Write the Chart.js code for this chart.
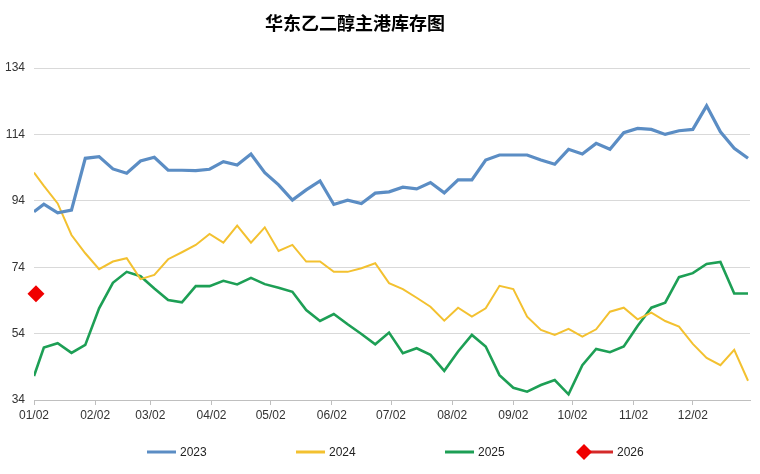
<!DOCTYPE html>
<html>
<head>
<meta charset="utf-8">
<script src="https://cdn.jsdelivr.net/npm/chart.js@4.4.1/dist/chart.umd.min.js"></script>
<style>
  html, body { margin: 0; padding: 0; background: #fff; }
</style>
</head>
<body>
<canvas id="graph" width="760" height="474"></canvas>
<script>

// days counted from 01/02, one reading a week
var weekDays = [0, 5, 12, 19, 26, 33, 40, 47, 54, 61, 68, 75, 82, 89, 96, 103, 110, 117, 124, 131,
    138, 145, 152, 159, 166, 173, 180, 187, 194, 201, 208, 215, 222, 229, 236, 243, 250, 257, 264,
    271, 278, 285, 292, 299, 306, 313, 320, 327, 334, 341, 348, 355, 362];

var monthDays = [0, 31, 59, 90, 120, 151, 181, 212, 243, 273, 304, 334];
var monthLabels = ['01/02', '02/02', '03/02', '04/02', '05/02', '06/02', '07/02', '08/02', '09/02', '10/02', '11/02', '12/02'];
var yTicks = [34, 54, 74, 94, 114, 134];

var stock2023 = [90.7, 93, 90.4, 91.2, 106.8, 107.3, 103.6, 102.3, 106, 107.1, 103.2, 103.2, 103.1, 103.5,
    105.8, 104.8, 108.1, 102.5, 98.8, 94.2, 97.3, 100, 92.9, 94.2, 93.2, 96.3, 96.7, 98.1, 97.6, 99.5,
    96.4, 100.3, 100.3, 106.3, 107.8, 107.8, 107.8, 106.3, 105, 109.5, 108.1, 111.3, 109.5, 114.5,
    115.8, 115.5, 114, 115.1, 115.5, 122.6, 114.8, 109.8, 106.8];

var stock2024 = [102.5, 98.5, 93.2, 83.7, 78.2, 73.4, 75.7, 76.7, 70.4, 71.7, 76.4, 78.5, 80.7, 84,
    81.4, 86.5, 81.4, 86, 78.9, 80.7, 75.7, 75.7, 72.6, 72.6, 73.7, 75.2, 69.2, 67.4, 64.8, 62.1,
    57.9, 61.8, 59.1, 61.6, 68.4, 67.4, 59.1, 55.1, 53.6, 55.4, 53.1, 55.3, 60.6, 61.8, 58.3, 60.3,
    57.8, 56.1, 50.9, 46.7, 44.5, 49.1, 39.8];

var stock2025 = [41.2, 49.8, 51.1, 48.2, 50.6, 61.6, 69.3, 72.6, 71.3, 67.6, 64.1, 63.4, 68.3, 68.3,
    69.9, 68.8, 70.8, 68.9, 67.8, 66.6, 61.1, 57.8, 59.9, 56.8, 53.9, 50.8, 54.3, 48.1, 49.6, 47.6,
    42.8, 48.6, 53.6, 50.1, 41.5, 37.7, 36.5, 38.5, 40, 35.7, 44.5, 49.4, 48.4, 50.1, 56.3, 61.8,
    63.3, 71, 72.2, 75, 75.6, 66.1, 66.1];

var days2026 = [1];
var stock2026 = [66];

var titleText = '华东乙二醇主港库存图';

const toPoints = (days, values) => {
    var pts = [];
    for (var i in values) {
        pts.push({ x: days[i], y: values[i] });
    }
    return pts;
};

// title and the bottom legend, placed like the excel original
var titleAndLegend = {
    id: 'titleAndLegend',
    afterDraw: function (chart) {
        var ctx = chart.ctx;
        ctx.save();
        ctx.fillStyle = '#000';
        ctx.font = 'bold 18px "Noto Sans CJK SC"';
        ctx.textAlign = 'center';
        ctx.textBaseline = 'middle';
        ctx.fillText(titleText, 355, 23);

        var legendX = [147, 296, 445, 584];
        var y = 452;
        ctx.font = '12px "Liberation Sans"';
        ctx.textAlign = 'left';
        chart.data.datasets.forEach(function (ds, i) {
            var x = legendX[i];
            ctx.strokeStyle = ds.legendLine || ds.borderColor;
            ctx.lineWidth = 3;
            ctx.beginPath();
            ctx.moveTo(x, y);
            ctx.lineTo(x + 29, y);
            ctx.stroke();
            if (ds.pointStyle === 'rectRot') {
                ctx.fillStyle = ds.pointBackgroundColor;
                ctx.beginPath();
                ctx.moveTo(x - 8, y);
                ctx.lineTo(x, y - 8);
                ctx.lineTo(x + 8, y);
                ctx.lineTo(x, y + 8);
                ctx.closePath();
                ctx.fill();
            }
            ctx.fillStyle = '#222';
            ctx.fillText(ds.label, x + 33, y + 1);
        });
        ctx.restore();
    }
};

const showGraph = () => {

    var chartdata = {
        datasets: [
            {
                label: '2023',
                data: toPoints(weekDays, stock2023),
                borderColor: '#5b8dc4',
                borderWidth: 3.2,
                pointRadius: 0,
                tension: 0
            },
            {
                label: '2024',
                data: toPoints(weekDays, stock2024),
                borderColor: '#f3c130',
                borderWidth: 2,
                pointRadius: 0,
                tension: 0
            },
            {
                label: '2025',
                data: toPoints(weekDays, stock2025),
                borderColor: '#1d9f55',
                borderWidth: 2.6,
                pointRadius: 0,
                tension: 0
            },
            {
                label: '2026',
                data: toPoints(days2026, stock2026),
                borderColor: '#e00000',
                legendLine: '#d42a2a',
                borderWidth: 3,
                clip: false,
                pointStyle: 'rectRot',
                pointRadius: 8.5,
                pointBackgroundColor: '#f00000',
                pointBorderWidth: 0
            }
        ]
    };

    var graphTarget = document.getElementById('graph');

    var lineGraph = new Chart(graphTarget, {
        type: 'line',
        data: chartdata,
        plugins: [titleAndLegend],
        options: {
            responsive: false,
            animation: false,
            devicePixelRatio: 1,
            layout: { padding: { top: 68, right: 10, bottom: 44, left: 0 } },
            plugins: {
                legend: { display: false },
                title: { display: false },
                tooltip: { enabled: false }
            },
            scales: {
                x: {
                    type: 'linear',
                    min: 0,
                    max: 363,
                    afterBuildTicks: function (scale) {
                        scale.ticks = monthDays.map(function (d) { return { value: d }; });
                    },
                    afterFit: function (scale) { scale.height = 30; },
                    ticks: {
                        autoSkip: false,
                        maxRotation: 0,
                        padding: 3,
                        color: '#333',
                        font: { family: 'Liberation Sans', size: 12 },
                        callback: function (value) {
                            return monthLabels[monthDays.indexOf(value)];
                        }
                    },
                    grid: {
                        drawOnChartArea: false,
                        drawTicks: true,
                        tickLength: 5,
                        color: '#bfbfbf'
                    },
                    border: { display: true, color: '#bfbfbf' }
                },
                y: {
                    min: 34,
                    max: 134,
                    afterBuildTicks: function (scale) {
                        scale.ticks = yTicks.map(function (v) { return { value: v }; });
                    },
                    afterFit: function (scale) { scale.width = 34; },
                    ticks: {
                        padding: 9,
                        color: '#333',
                        font: { family: 'Liberation Sans', size: 12 }
                    },
                    grid: { color: '#d9d9d9', drawTicks: false },
                    border: { display: false }
                }
            }
        }
    });
};

showGraph();

</script>
</body>
</html>
